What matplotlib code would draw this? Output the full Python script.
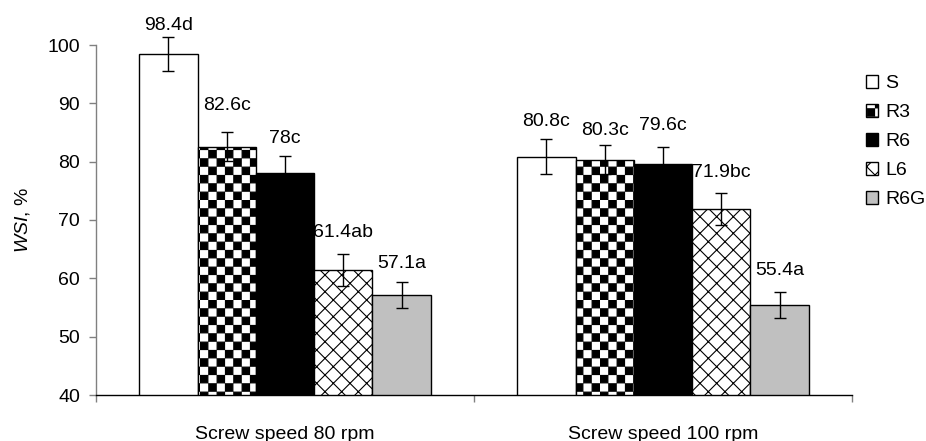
import warnings
warnings.filterwarnings("ignore")
import numpy as np
import matplotlib
matplotlib.use("Agg")
import matplotlib.pyplot as plt
from matplotlib import hatch as mhatch
from matplotlib.path import Path

# ---------------- data ----------------
categories = ["Screw speed 80 rpm", "Screw speed 100 rpm"]
series = ["S", "R3", "R6", "L6", "R6G"]
values = {
    "S":   [98.4, 80.8],
    "R3":  [82.6, 80.3],
    "R6":  [78.0, 79.6],
    "L6":  [61.4, 71.9],
    "R6G": [57.1, 55.4],
}
errors = {
    "S":   [2.9, 3.0],
    "R3":  [2.5, 2.5],
    "R6":  [3.0, 3.0],
    "L6":  [2.8, 2.8],
    "R6G": [2.2, 2.2],
}
labels = {
    "S":   ["98.4d", "80.8c"],
    "R3":  ["82.6c", "80.3c"],
    "R6":  ["78c", "79.6c"],
    "L6":  ["61.4ab", "71.9bc"],
    "R6G": ["57.1a", "55.4a"],
}
label_y = {
    "S":   [103.4, 86.9],
    "R3":  [89.6, 85.4],
    "R6":  [83.9, 86.2],
    "L6":  [67.8, 78.2],
    "R6G": [62.6, 61.4],
}
yticks = [40, 50, 60, 70, 80, 90, 100]

# ---------------- styles ----------------
faces = {"S": "white", "R3": "white", "R6": "black", "L6": "white", "R6G": "#c0c0c0"}
hatches = {"S": None, "R3": "O", "R6": None, "L6": "xx", "R6G": None}

# checkerboard hatch (replaces the 'O' pattern)
_orig_get_path = mhatch.get_path
def _checker_get_path(hatchpattern, density=6):
    if hatchpattern == "O":
        n = 12
        d = 0.45 / 100.0
        verts, codes = [], []
        for i in range(n):
            for j in range(n):
                if (i + j) % 2 == 0:
                    x0, y0 = i / n + d, j / n + d
                    x1, y1 = (i + 1) / n - d, (j + 1) / n - d
                    verts += [(x0, y0), (x1, y0), (x1, y1), (x0, y1), (x0, y0)]
                    codes += [Path.MOVETO, Path.LINETO, Path.LINETO, Path.LINETO, Path.CLOSEPOLY]
        return Path(np.array(verts), np.array(codes, dtype=Path.code_type))
    return _orig_get_path(hatchpattern, density)
mhatch.get_path = _checker_get_path

plt.rcParams["font.family"] = ["Liberation Sans", "DejaVu Sans"]
plt.rcParams["mathtext.fontset"] = "custom"
plt.rcParams["mathtext.it"] = "Liberation Sans:italic"
plt.rcParams["mathtext.rm"] = "Liberation Sans"
plt.rcParams["hatch.linewidth"] = 0.8
plt.rcParams["hatch.color"] = "black"

fig = plt.figure(figsize=(9.26, 4.41), dpi=100)
ax = fig.add_axes([96 / 926, 46 / 441, (852 - 96) / 926, (395 - 45) / 441])

x = np.arange(len(categories))
w = 0.1543
handles = []
for i, s in enumerate(series):
    pos = x + (i - 2) * w
    b = ax.bar(pos, values[s], width=w, bottom=0, color=faces[s], edgecolor="black",
               linewidth=1.0, hatch=hatches[s], zorder=2)
    handles.append(b)
    eb = ax.errorbar(pos, values[s], yerr=errors[s], fmt="none", ecolor="black",
                     elinewidth=1.0, capsize=4.5, capthick=1.0, zorder=3)
    for child in eb.get_children():
        child.set_clip_on(False)
    for px, ly, lab in zip(pos, label_y[s], labels[s]):
        ax.text(px, ly, lab, ha="center", va="center", fontsize=14, zorder=4)

ax.set_xlim(-0.5, 1.5)
ax.set_ylim(40, 100)
ax.set_yticks(yticks)
ax.set_xticks([-0.5, 0.5, 1.5])
ax.set_xticklabels([])
ax.set_xticks(x, minor=True)
ax.set_xticklabels(categories, minor=True, fontsize=14)
ax.tick_params(axis="x", which="minor", length=0, pad=22)
ax.tick_params(axis="x", which="major", length=5, width=1, color="#808080", direction="out")
ax.tick_params(axis="y", length=5, width=1, color="#808080", direction="out", pad=6.5, labelsize=14)

for sp in ("top", "right"):
    ax.spines[sp].set_visible(False)
ax.spines["left"].set_color("#808080")
ax.spines["left"].set_linewidth(1.0)
ax.spines["bottom"].set_color("black")
ax.spines["bottom"].set_linewidth(1.0)

ax.set_ylabel(r"$\mathit{WSI}$, %", fontsize=14, labelpad=11)

fig.legend(handles=handles, labels=series, loc="upper left",
           bbox_to_anchor=(866 / 926, 1 - 75 / 441), frameon=False,
           borderpad=0, borderaxespad=0, handlelength=0.62, handleheight=0.62,
           handletextpad=0.36, labelspacing=0.61, fontsize=14)

fig.savefig("out.png", dpi=100)
